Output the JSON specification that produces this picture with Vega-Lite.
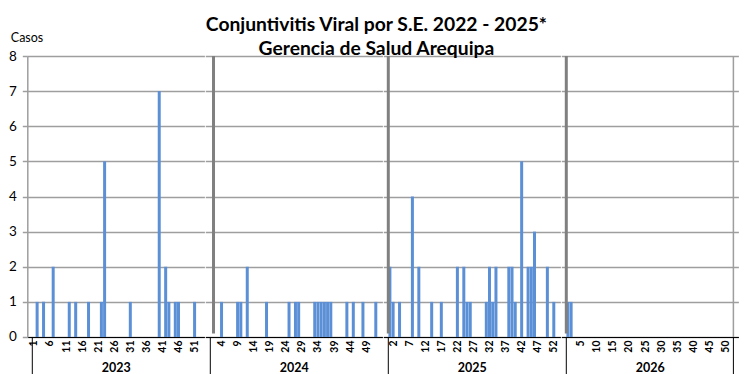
{
  "$schema": "https://vega.github.io/schema/vega-lite/v6.json",
  "padding": {"left": 8.3, "top": 15, "right": 0, "bottom": 0},
  "bounds": "flush",
  "spacing": 0,
  "title": {
    "text": ["Conjuntivitis Viral por S.E. 2022 - 2025*", "Gerencia de Salud Arequipa"],
    "fontSize": 19.3,
    "fontWeight": "bold",
    "color": "#000000",
    "anchor": "middle",
    "lineHeight": 24,
    "offset": -28,
    "dx": 3
  },
  "data": {
    "values": [
      {"anio": 2023, "semana": 2, "casos": 1},
      {"anio": 2023, "semana": 4, "casos": 1},
      {"anio": 2023, "semana": 7, "casos": 2},
      {"anio": 2023, "semana": 12, "casos": 1},
      {"anio": 2023, "semana": 14, "casos": 1},
      {"anio": 2023, "semana": 18, "casos": 1},
      {"anio": 2023, "semana": 22, "casos": 1},
      {"anio": 2023, "semana": 23, "casos": 5},
      {"anio": 2023, "semana": 31, "casos": 1},
      {"anio": 2023, "semana": 40, "casos": 7},
      {"anio": 2023, "semana": 42, "casos": 2},
      {"anio": 2023, "semana": 43, "casos": 1},
      {"anio": 2023, "semana": 45, "casos": 1},
      {"anio": 2023, "semana": 46, "casos": 1},
      {"anio": 2023, "semana": 51, "casos": 1},
      {"anio": 2024, "semana": 4, "casos": 1},
      {"anio": 2024, "semana": 9, "casos": 1},
      {"anio": 2024, "semana": 10, "casos": 1},
      {"anio": 2024, "semana": 12, "casos": 2},
      {"anio": 2024, "semana": 18, "casos": 1},
      {"anio": 2024, "semana": 25, "casos": 1},
      {"anio": 2024, "semana": 27, "casos": 1},
      {"anio": 2024, "semana": 28, "casos": 1},
      {"anio": 2024, "semana": 33, "casos": 1},
      {"anio": 2024, "semana": 34, "casos": 1},
      {"anio": 2024, "semana": 35, "casos": 1},
      {"anio": 2024, "semana": 36, "casos": 1},
      {"anio": 2024, "semana": 37, "casos": 1},
      {"anio": 2024, "semana": 38, "casos": 1},
      {"anio": 2024, "semana": 43, "casos": 1},
      {"anio": 2024, "semana": 45, "casos": 1},
      {"anio": 2024, "semana": 48, "casos": 1},
      {"anio": 2024, "semana": 52, "casos": 1},
      {"anio": 2025, "semana": 1, "casos": 2},
      {"anio": 2025, "semana": 2, "casos": 1},
      {"anio": 2025, "semana": 4, "casos": 1},
      {"anio": 2025, "semana": 8, "casos": 4},
      {"anio": 2025, "semana": 10, "casos": 2},
      {"anio": 2025, "semana": 14, "casos": 1},
      {"anio": 2025, "semana": 17, "casos": 1},
      {"anio": 2025, "semana": 22, "casos": 2},
      {"anio": 2025, "semana": 24, "casos": 2},
      {"anio": 2025, "semana": 25, "casos": 1},
      {"anio": 2025, "semana": 26, "casos": 1},
      {"anio": 2025, "semana": 31, "casos": 1},
      {"anio": 2025, "semana": 32, "casos": 2},
      {"anio": 2025, "semana": 33, "casos": 1},
      {"anio": 2025, "semana": 34, "casos": 2},
      {"anio": 2025, "semana": 38, "casos": 2},
      {"anio": 2025, "semana": 39, "casos": 2},
      {"anio": 2025, "semana": 40, "casos": 1},
      {"anio": 2025, "semana": 42, "casos": 5},
      {"anio": 2025, "semana": 44, "casos": 2},
      {"anio": 2025, "semana": 45, "casos": 2},
      {"anio": 2025, "semana": 46, "casos": 3},
      {"anio": 2025, "semana": 50, "casos": 2},
      {"anio": 2025, "semana": 52, "casos": 1},
      {"anio": 2026, "semana": 1, "casos": 1},
      {"anio": 2026, "semana": 2, "casos": 1}
    ]
  },
  "hconcat": [
    {
      "width": 177.1,
      "height": 281,
      "resolve": {"axis": {"x": "independent", "y": "independent"}},
      "layer": [
        {
          "transform": [{"filter": "datum.anio === 2023"}],
          "mark": {"type": "bar", "width": 3, "color": "#5B8FD6"},
          "encoding": {
            "x": {"field": "semana", "type": "quantitative",
                  "scale": {"domain": [0.5, 52.5], "nice": false, "zero": false},
                  "axis": {"values": [1, 6, 11, 16, 21, 26, 31, 36, 41, 46, 51], "title": "2023"}},
            "y": {"field": "casos", "type": "quantitative",
                  "scale": {"domain": [0, 8], "nice": false},
                  "axis": {"values": [0, 1, 2, 3, 4, 5, 6, 7, 8], "title": "Casos",
                           "labels": true, "ticks": true, "tickSize": 5, "tickColor": "#9e9e9e", "tickWidth": 1.5,
                           "domain": true, "domainColor": "#9e9e9e", "domainWidth": 1.5,
                           "labelFontSize": 13.5, "labelPadding": 6, "labelColor": "#000000",
                           "titleAngle": 0, "titleAlign": "left", "titleBaseline": "alphabetic",
                           "titleX": -17, "titleY": -15, "titleFontSize": 12.5, "titleFontWeight": "normal", "titleColor": "#000000"}}
          }
        },
        {
          "data": {"values": [{}]},
          "mark": {"type": "rule", "color": "#000000", "strokeWidth": 1},
          "encoding": {
            "x": {"datum": 0.5, "type": "quantitative", "axis": null},
            "y": {"datum": 0, "type": "quantitative", "axis": null},
            "y2": {"datum": -1.1}
          }
        }
      ]
    },
    {
      "width": 177.1,
      "height": 281,
      "resolve": {"axis": {"x": "independent", "y": "independent"}},
      "layer": [
        {
          "transform": [{"filter": "datum.anio === 2024"}],
          "mark": {"type": "bar", "width": 3, "color": "#5B8FD6"},
          "encoding": {
            "x": {"field": "semana", "type": "quantitative",
                  "scale": {"domain": [0.5, 52.5], "nice": false, "zero": false},
                  "axis": {"values": [4, 9, 14, 19, 24, 29, 34, 39, 44, 49], "title": "2024"}},
            "y": {"field": "casos", "type": "quantitative",
                  "scale": {"domain": [0, 8], "nice": false},
                  "axis": {"values": [0, 1, 2, 3, 4, 5, 6, 7, 8], "title": null, "labels": false, "ticks": false, "domain": false}}
          }
        },
        {
          "data": {"values": [{}]},
          "mark": {"type": "rule", "color": "#000000", "strokeWidth": 1},
          "encoding": {
            "x": {"datum": 0.5, "type": "quantitative", "axis": null},
            "y": {"datum": 0, "type": "quantitative", "axis": null},
            "y2": {"datum": -1.1}
          }
        },
        {
          "data": {"values": [{}]},
          "mark": {"type": "rule", "color": "#808080", "strokeWidth": 3},
          "encoding": {
            "x": {"datum": 1.5, "type": "quantitative", "axis": null},
            "y": {"datum": 0.1, "type": "quantitative", "axis": null},
            "y2": {"datum": 8}
          }
        }
      ]
    },
    {
      "width": 177.1,
      "height": 281,
      "resolve": {"axis": {"x": "independent", "y": "independent"}},
      "layer": [
        {
          "transform": [{"filter": "datum.anio === 2025"}],
          "mark": {"type": "bar", "width": 3, "color": "#5B8FD6"},
          "encoding": {
            "x": {"field": "semana", "type": "quantitative",
                  "scale": {"domain": [0.5, 52.5], "nice": false, "zero": false},
                  "axis": {"values": [2, 7, 12, 17, 22, 27, 32, 37, 42, 47, 52], "title": "2025"}},
            "y": {"field": "casos", "type": "quantitative",
                  "scale": {"domain": [0, 8], "nice": false},
                  "axis": {"values": [0, 1, 2, 3, 4, 5, 6, 7, 8], "title": null, "labels": false, "ticks": false, "domain": false}}
          }
        },
        {
          "data": {"values": [{}]},
          "mark": {"type": "rule", "color": "#000000", "strokeWidth": 1},
          "encoding": {
            "x": {"datum": 0.5, "type": "quantitative", "axis": null},
            "y": {"datum": 0, "type": "quantitative", "axis": null},
            "y2": {"datum": -1.1}
          }
        },
        {
          "data": {"values": [{}]},
          "mark": {"type": "rule", "color": "#808080", "strokeWidth": 3},
          "encoding": {
            "x": {"datum": 0.5, "type": "quantitative", "axis": null},
            "y": {"datum": 0.1, "type": "quantitative", "axis": null},
            "y2": {"datum": 8}
          }
        }
      ]
    },
    {
      "width": 177.1,
      "height": 281,
      "resolve": {"axis": {"x": "independent", "y": "independent"}},
      "layer": [
        {
          "transform": [{"filter": "datum.anio === 2026"}],
          "mark": {"type": "bar", "width": 3, "color": "#5B8FD6"},
          "encoding": {
            "x": {"field": "semana", "type": "quantitative",
                  "scale": {"domain": [0.5, 52.5], "nice": false, "zero": false},
                  "axis": {"values": [5, 10, 15, 20, 25, 30, 35, 40, 45, 50], "title": "2026"}},
            "y": {"field": "casos", "type": "quantitative",
                  "scale": {"domain": [0, 8], "nice": false},
                  "axis": {"values": [0, 1, 2, 3, 4, 5, 6, 7, 8], "title": null, "labels": false, "ticks": false, "domain": false}}
          }
        },
        {
          "data": {"values": [{"borde": 0.5}, {"borde": 52.5}]},
          "mark": {"type": "rule", "color": "#000000", "strokeWidth": 1},
          "encoding": {
            "x": {"field": "borde", "type": "quantitative", "axis": null},
            "y": {"datum": 0, "type": "quantitative", "axis": null},
            "y2": {"datum": -1.1}
          }
        },
        {
          "data": {"values": [{}]},
          "mark": {"type": "rule", "color": "#9e9e9e", "strokeWidth": 1.5},
          "encoding": {
            "x": {"datum": 52.5, "type": "quantitative", "axis": null},
            "y": {"datum": 0, "type": "quantitative", "axis": null},
            "y2": {"datum": 8}
          }
        },
        {
          "data": {"values": [{}]},
          "mark": {"type": "rule", "color": "#808080", "strokeWidth": 3},
          "encoding": {
            "x": {"datum": 0.5, "type": "quantitative", "axis": null},
            "y": {"datum": 0.1, "type": "quantitative", "axis": null},
            "y2": {"datum": 8}
          }
        }
      ]
    }
  ],
  "config": {
    "font": "Lato",
    "view": {"stroke": null},
    "axisY": {"grid": true, "gridColor": "#9e9e9e", "gridWidth": 1.5},
    "axisX": {
      "grid": false,
      "ticks": false,
      "tickSize": 0,
      "domainColor": "#000000",
      "domainWidth": 1,
      "labelAngle": -90,
      "labelFontSize": 10.5,
      "labelFontWeight": "bold",
      "labelColor": "#000000",
      "labelPadding": 3,
      "labelFlush": false,
      "labelOverlap": false,
      "titleFontSize": 12.5,
      "titleFontWeight": "bold",
      "titleColor": "#000000",
      "titleBaseline": "alphabetic",
      "titleY": 34.5
    }
  }
}
